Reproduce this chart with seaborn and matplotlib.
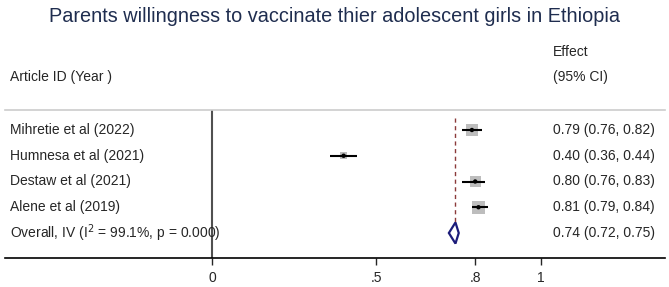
import numpy as np
import pandas as pd
import seaborn as sns
import matplotlib
matplotlib.use('Agg')
import matplotlib.pyplot as plt

# data
studies = ['Mihretie et al (2022)', 'Humnesa et al (2021)', 'Destaw et al (2021)', 'Alene et al (2019)']
effect = [0.79, 0.40, 0.80, 0.81]
lower = [0.76, 0.36, 0.76, 0.79]
upper = [0.82, 0.44, 0.83, 0.84]
weights = [1.0, 0.4, 0.9, 1.2]
overall_label = 'Overall, IV (I$^2$ = 99.1%, p = 0.000)'
overall = [0.74, 0.72, 0.75]
tick_vals = [0, 0.5, 0.8, 1]
tick_labels = ['0', '.5', '.8', '1']

df = pd.DataFrame({'study': studies, 'effect': effect, 'lower': lower,
                   'upper': upper, 'w': weights, 'row': range(len(studies))})

sns.set_style('white')
plt.rcParams['font.family'] = ['Liberation Sans', 'DejaVu Sans']
fs = 10

W, H = 669, 287
fig = plt.figure(figsize=(W / 100, H / 100), dpi=100)
ax = fig.add_axes([5 / W, 1 - 258 / H, 660 / W, 148 / H])

ax.set_xlim((5 - 212) / 329, (665 - 212) / 329)
ax.set_ylim((258 - 130) / 25.75, (110 - 130) / 25.75)

# CI lines
ax.hlines(df['row'], df['lower'], df['upper'], color='black', lw=1.5, zorder=3)
# weight squares
sns.scatterplot(data=df, x='effect', y='row', size='w', sizes=(25, 85), marker='s',
                color='#bdbdbd', edgecolor='none', legend=False, ax=ax, zorder=2)
sns.scatterplot(data=df, x='effect', y='row', s=10, color='black', edgecolor='none',
                legend=False, ax=ax, zorder=4)

# overall diamond
orow = len(studies)
est, lo, hi = overall
ax.fill([lo, est, hi, est, lo], [orow, orow - 0.41, orow, orow + 0.41, orow],
        facecolor='white', edgecolor='#1c1c7a', lw=1.6, zorder=5)
ax.plot([est, est], [-0.45, orow + 0.4], color='#8b3a3a', ls=(0, (3, 2.5)), lw=1, zorder=1)

# null line
ax.axvline(0, color='#505050', lw=1.5, zorder=1)

for s in ['left', 'right']:
    ax.spines[s].set_visible(False)
ax.spines['top'].set_color('#cccccc')
ax.spines['top'].set_linewidth(1.2)
ax.spines['bottom'].set_color('black')
ax.spines['bottom'].set_linewidth(1.2)
ax.set_yticks([])
ax.set_xticks(tick_vals)
ax.set_xticklabels(tick_labels, fontsize=fs)
ax.tick_params(axis='x', direction='out', length=5, width=1, bottom=True, pad=4)
ax.set_xlabel('')
ax.set_ylabel('')

# text columns
lx = (10 - 212) / 329
rx = (553 - 212) / 329
for i, r in df.iterrows():
    ax.text(lx, r['row'], r['study'], fontsize=fs, va='center', ha='left')
    ax.text(rx, r['row'], f"{r['effect']:.2f} ({r['lower']:.2f}, {r['upper']:.2f})",
            fontsize=fs, va='center', ha='left', clip_on=False)
ax.text(lx, orow, overall_label, fontsize=fs, va='center', ha='left')
ax.text(rx, orow, f"{est:.2f} ({lo:.2f}, {hi:.2f})", fontsize=fs, va='center', ha='left')

fig.text(553 / W, 1 - 52 / H, 'Effect', fontsize=fs, va='center', ha='left')
fig.text(553 / W, 1 - 77 / H, '(95% CI)', fontsize=fs, va='center', ha='left')
fig.text(10 / W, 1 - 77 / H, 'Article ID (Year )', fontsize=fs, va='center', ha='left')
fig.text(0.5, 1 - 16 / H, 'Parents willingness to vaccinate thier adolescent girls in Ethiopia',
         fontsize=14.3, color='#1f2d4f', va='center', ha='center')

fig.savefig('out.png', dpi=100)
